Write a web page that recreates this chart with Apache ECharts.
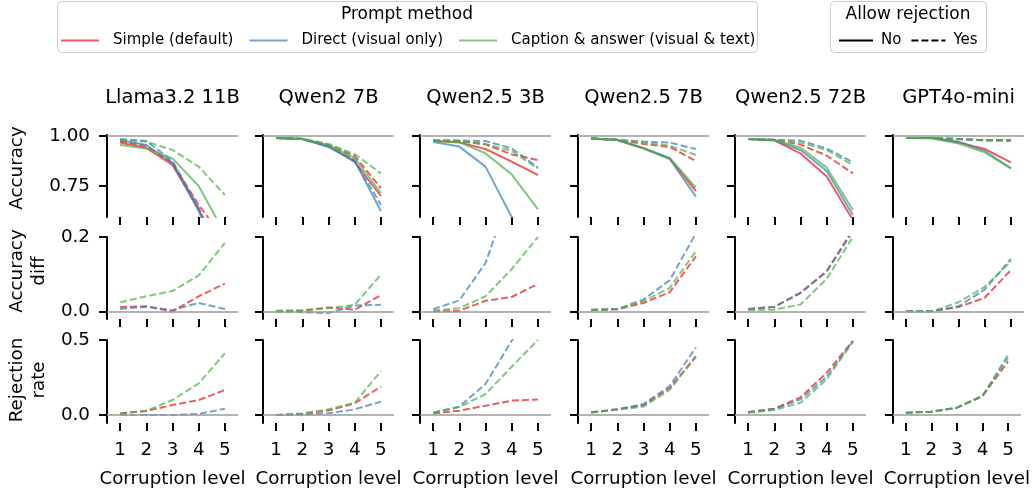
<!DOCTYPE html>
<html><head><meta charset="utf-8">
<script src="https://cdn.jsdelivr.net/npm/echarts@6/dist/echarts.min.js"></script>
<style>html,body{margin:0;padding:0;background:#fff}#c{width:1032px;height:489px}</style>
</head><body><div id="c"></div>
<script>
// ---------- data ----------
const levels = ['1', '2', '3', '4', '5'];
const models = ['Llama3.2 11B', 'Qwen2 7B', 'Qwen2.5 3B', 'Qwen2.5 7B', 'Qwen2.5 72B', 'GPT4o-mini'];
const methods = ['Simple (default)', 'Direct (visual only)', 'Caption & answer (visual & text)'];
const rejectionOptions = ['No', 'Yes'];
const rowLabels = ['Accuracy', 'Accuracy\ndiff', 'Rejection\nrate'];
const accTicks = [0.75, 1.0];
const diffTicks = [0.0, 0.2];
const rejTicks = [0.0, 0.5];

// Accuracy, rejection not allowed (solid)
const accNoSimple = [
  [0.968, 0.940, 0.855, 0.635, 0.350],
  [0.990, 0.985, 0.950, 0.870, 0.700],
  [0.975, 0.968, 0.935, 0.872, 0.805],
  [0.988, 0.980, 0.938, 0.888, 0.725],
  [0.985, 0.978, 0.913, 0.797, 0.580],
  [0.990, 0.990, 0.968, 0.935, 0.868]
];
const accNoDirect = [
  [0.980, 0.955, 0.865, 0.625, 0.300],
  [0.990, 0.985, 0.945, 0.875, 0.625],
  [0.970, 0.947, 0.847, 0.595, 0.350],
  [0.988, 0.980, 0.938, 0.885, 0.697],
  [0.985, 0.980, 0.930, 0.825, 0.605],
  [0.990, 0.990, 0.972, 0.925, 0.838]
];
const accNoCaption = [
  [0.955, 0.938, 0.888, 0.750, 0.510],
  [0.990, 0.985, 0.955, 0.890, 0.715],
  [0.975, 0.970, 0.913, 0.808, 0.633],
  [0.988, 0.980, 0.940, 0.890, 0.742],
  [0.985, 0.980, 0.942, 0.842, 0.630],
  [0.990, 0.988, 0.962, 0.918, 0.838]
];
// Accuracy, rejection allowed (dashed)
const accYesSimple = [
  [0.975, 0.950, 0.865, 0.655, 0.480],
  [0.990, 0.985, 0.955, 0.900, 0.740],
  [0.978, 0.975, 0.958, 0.908, 0.880],
  [0.988, 0.980, 0.960, 0.945, 0.875],
  [0.985, 0.980, 0.957, 0.902, 0.813],
  [0.990, 0.990, 0.985, 0.980, 0.980]
];
const accYesDirect = [
  [0.985, 0.975, 0.875, 0.640, 0.350],
  [0.990, 0.985, 0.950, 0.880, 0.655],
  [0.978, 0.978, 0.975, 0.938, 0.842],
  [0.988, 0.982, 0.972, 0.967, 0.935],
  [0.985, 0.982, 0.977, 0.938, 0.868],
  [0.990, 0.990, 0.985, 0.978, 0.977]
];
const accYesCaption = [
  [0.980, 0.972, 0.930, 0.847, 0.705],
  [0.990, 0.988, 0.960, 0.910, 0.813],
  [0.978, 0.975, 0.960, 0.925, 0.838],
  [0.988, 0.980, 0.967, 0.952, 0.905],
  [0.985, 0.980, 0.967, 0.930, 0.855],
  [0.990, 0.990, 0.985, 0.978, 0.975]
];
// Accuracy difference (dashed)
const diffSimple = [
  [0.0125, 0.014, 0.000, 0.041, 0.075],
  [0.000, 0.002, 0.011, 0.005, 0.044],
  [0.000, 0.002, 0.029, 0.039, 0.074],
  [0.004, 0.006, 0.023, 0.052, 0.148],
  [0.007, 0.0125, 0.050, 0.108, 0.220],
  [0.001, 0.001, 0.012, 0.037, 0.111]
];
const diffDirect = [
  [0.007, 0.013, 0.004, 0.023, 0.007],
  [0.000, -0.002, -0.004, 0.016, 0.018],
  [0.006, 0.030, 0.130, 0.330, 0.450],
  [0.005, 0.007, 0.032, 0.084, 0.210],
  [0.007, 0.0125, 0.050, 0.108, 0.215],
  [0.001, 0.001, 0.014, 0.059, 0.141]
];
const diffCaption = [
  [0.025, 0.041, 0.055, 0.097, 0.184],
  [0.002, 0.004, 0.009, 0.018, 0.099],
  [0.002, 0.009, 0.041, 0.114, 0.200],
  [0.004, 0.006, 0.028, 0.063, 0.162],
  [0.004, 0.005, 0.019, 0.088, 0.200],
  [0.001, 0.001, 0.025, 0.066, 0.135]
];
// Rejection rate (dashed)
const rejSimple = [
  [0.011, 0.027, 0.067, 0.100, 0.167],
  [0.000, 0.008, 0.030, 0.078, 0.189],
  [0.011, 0.029, 0.062, 0.096, 0.104],
  [0.018, 0.038, 0.065, 0.180, 0.390],
  [0.020, 0.042, 0.118, 0.282, 0.495],
  [0.016, 0.022, 0.049, 0.127, 0.356]
];
const rejDirect = [
  [0.000, 0.000, 0.000, 0.007, 0.042],
  [0.000, 0.002, 0.012, 0.038, 0.089],
  [0.016, 0.056, 0.207, 0.495, 0.750],
  [0.018, 0.038, 0.073, 0.193, 0.451],
  [0.018, 0.040, 0.104, 0.256, 0.490],
  [0.016, 0.022, 0.049, 0.127, 0.400]
];
const rejCaption = [
  [0.011, 0.029, 0.100, 0.211, 0.411],
  [0.000, 0.011, 0.038, 0.082, 0.293],
  [0.016, 0.053, 0.140, 0.322, 0.500],
  [0.016, 0.035, 0.056, 0.167, 0.389],
  [0.016, 0.033, 0.082, 0.238, 0.490],
  [0.016, 0.022, 0.049, 0.127, 0.378]
];

// ---------- layout / style ----------
const FONT = 'DejaVu Sans';
const colors = ['#e41a1c', '#377eb8', '#4daf4a'];
const colLeft = [107, 263, 420, 578, 735, 893];
const colW = 131;
const rowTop = [135, 237, 340];
const rowH = [82, 82, 83];
const yMin = [0.595, -0.02, -0.053];
const yMax = [1.005, 0.2, 0.5];
const refVal = [1, 0, 0];
const tickSets = [accTicks, diffTicks, rejTicks];
const tickDigits = [2, 1, 1];
const dash = [7, 3];

const rowData = [
  [[accNoSimple, accYesSimple], [accNoDirect, accYesDirect], [accNoCaption, accYesCaption]],
  [[null, diffSimple], [null, diffDirect], [null, diffCaption]],
  [[null, rejSimple], [null, rejDirect], [null, rejCaption]]
];

const grids = [], xAxes = [], yAxes = [], series = [], graphics = [];

for (let r = 0; r < 3; r++) {
  for (let c = 0; c < 6; c++) {
    const idx = r * 6 + c;
    grids.push({ left: colLeft[c], top: rowTop[r], width: colW, height: rowH[r] });
    xAxes.push({
      gridIndex: idx, type: 'category', data: levels, boundaryGap: true,
      axisLine: { show: false, onZero: false },
      axisTick: { show: true, alignWithLabel: true, length: 8, lineStyle: { color: '#000', width: 2 } },
      axisLabel: { show: r === 2, margin: 18, fontSize: 18.3, fontFamily: FONT, color: '#000' },
      splitLine: { show: false },
      name: r === 2 ? 'Corruption level' : '',
      nameLocation: 'middle', nameGap: 47,
      nameTextStyle: { fontSize: 18.3, fontFamily: FONT, color: '#000' }
    });
    const ticks = tickSets[r], dg = tickDigits[r];
    yAxes.push({
      gridIndex: idx, type: 'value', min: yMin[r], max: yMax[r],
      axisLine: { show: true, onZero: false, lineStyle: { color: '#000', width: 2 } },
      axisTick: { show: true, length: 8, customValues: ticks, lineStyle: { color: '#000', width: 2 } },
      axisLabel: { show: c === 0, customValues: ticks, margin: 17, fontSize: 18.3, fontFamily: FONT, color: '#000',
        formatter: v => Number(v).toFixed(dg) },
      splitLine: { show: false }
    });
    // reference line
    series.push({
      type: 'line', name: '_ref' + idx, xAxisIndex: idx, yAxisIndex: idx, data: [], z: 1, silent: true,
      markLine: { silent: true, symbol: 'none', label: { show: false }, animation: false,
        lineStyle: { color: '#9a9a9a', width: 1.5, type: 'solid' }, data: [{ yAxis: refVal[r] }] }
    });
    for (let m = 0; m < 3; m++) {
      for (let k = 0; k < 2; k++) {
        const arr = rowData[r][m][k];
        if (!arr) continue;
        series.push({
          type: 'line', name: methods[m], xAxisIndex: idx, yAxisIndex: idx,
          data: arr[c], symbol: 'none', clip: true, z: 2, silent: true,
          itemStyle: { color: colors[m] },
          lineStyle: { color: colors[m], width: 2, opacity: 0.7, type: k === 0 ? 'solid' : dash }
        });
      }
    }
  }
}
// legend-only series for rejection style
series.push({ type: 'line', name: rejectionOptions[0], xAxisIndex: 0, yAxisIndex: 0, data: [], symbol: 'none',
  itemStyle: { color: '#000' }, lineStyle: { color: '#000', width: 2, type: 'solid' } });
series.push({ type: 'line', name: rejectionOptions[1], xAxisIndex: 0, yAxisIndex: 0, data: [], symbol: 'none',
  itemStyle: { color: '#000' }, lineStyle: { color: '#000', width: 2, type: dash } });

// column titles
for (let c = 0; c < 6; c++) {
  graphics.push({ type: 'text', x: colLeft[c] + colW / 2, y: 98,
    style: { text: models[c], textAlign: 'center', textVerticalAlign: 'middle', fill: '#000',
      font: '19.5px "DejaVu Sans"' } });
}
// row labels
const rowLabelPos = [[17.5, 168], [28.5, 271], [28.5, 380]];
for (let r = 0; r < 3; r++) {
  graphics.push({ type: 'text', x: rowLabelPos[r][0], y: rowLabelPos[r][1], rotation: Math.PI / 2,
    style: { text: rowLabels[r], textAlign: 'center', textVerticalAlign: 'middle', fill: '#000',
      font: '18.3px "DejaVu Sans"', lineHeight: 22 } });
}
// legend frames and titles
graphics.push({ type: 'rect', shape: { x: 57.5, y: 1.5, width: 700, height: 51, r: 4 },
  style: { fill: '#fff', stroke: '#cccccc', lineWidth: 1 }, z: -1 });
graphics.push({ type: 'rect', shape: { x: 830.5, y: 1.5, width: 156, height: 51, r: 4 },
  style: { fill: '#fff', stroke: '#cccccc', lineWidth: 1 }, z: -1 });
graphics.push({ type: 'text', x: 407, y: 15, style: { text: 'Prompt method', textAlign: 'center',
  textVerticalAlign: 'middle', fill: '#000', font: '17px "DejaVu Sans"' } });
graphics.push({ type: 'text', x: 908, y: 15, style: { text: 'Allow rejection', textAlign: 'center',
  textVerticalAlign: 'middle', fill: '#000', font: '17px "DejaVu Sans"' } });

const option = {
  animation: false,
  backgroundColor: '#fff',
  textStyle: { fontFamily: FONT },
  grid: grids, xAxis: xAxes, yAxis: yAxes, series: series,
  legend: [
    { data: methods, left: 60, top: 33, padding: 0, itemWidth: 38, itemHeight: 14, itemGap: 15, selectedMode: false,
      itemStyle: { opacity: 0 },
      textStyle: { fontSize: 15, fontFamily: FONT, color: '#000', padding: [0, 0, 0, 9] } },
    { data: rejectionOptions, left: 838, top: 33, padding: 0, itemWidth: 34, itemHeight: 14, itemGap: 9, selectedMode: false,
      itemStyle: { opacity: 0 },
      textStyle: { fontSize: 15, fontFamily: FONT, color: '#000', padding: [0, 0, 0, 3] } }
  ],
  graphic: graphics
};
const chart = echarts.init(document.getElementById('c'), null, { renderer: 'canvas' });
chart.setOption(option);
</script></body></html>
